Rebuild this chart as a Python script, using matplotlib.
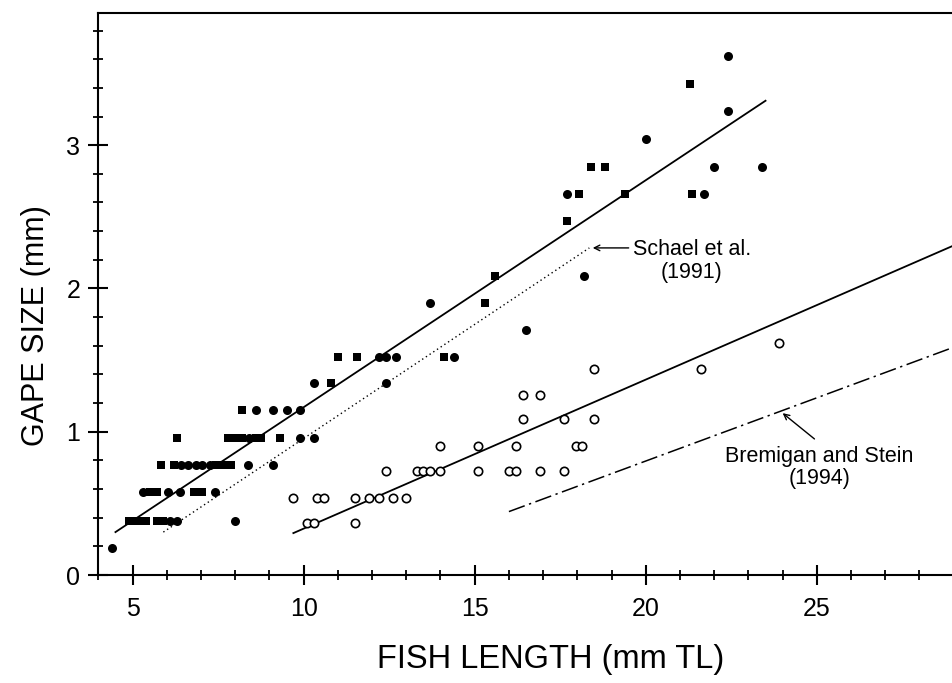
import numpy as np
import matplotlib.pyplot as plt
from matplotlib.ticker import MultipleLocator

plt.rcParams['font.family'] = ['Liberation Sans', 'DejaVu Sans']

# filled circles (length, gape)
circ_x = [4.4, 6.1, 6.3, 8.0, 5.3, 6.05, 6.4, 7.4, 6.43, 6.63, 6.84, 7.04, 7.25, 8.36, 9.1,
          8.4, 9.9, 10.3, 8.6, 9.1, 9.5, 9.9, 10.3, 12.4, 12.2, 12.4, 12.7, 14.4, 16.5, 13.7,
          18.2, 17.7, 21.7, 22.0, 23.4, 20.0, 22.4, 22.4]
circ_y = [0.19, 0.38, 0.38, 0.38, 0.58, 0.58, 0.58, 0.58, 0.77, 0.77, 0.77, 0.77, 0.77, 0.77, 0.77,
          0.96, 0.96, 0.96, 1.15, 1.15, 1.15, 1.15, 1.34, 1.34, 1.52, 1.52, 1.52, 1.52, 1.71, 1.90,
          2.09, 2.66, 2.66, 2.85, 2.85, 3.04, 3.24, 3.62]

# filled squares
sq_x = [4.89, 5.08, 5.27, 5.4, 5.7, 5.9, 5.5, 5.7, 6.81, 7.03, 5.83, 6.22, 7.45, 7.66, 7.87,
        6.3, 7.8, 8.0, 8.2, 8.6, 8.75, 9.3, 8.2, 10.8, 11.0, 11.55, 14.1, 15.3, 15.6, 17.7,
        18.05, 19.4, 21.35, 18.4, 18.8, 21.3]
sq_y = [0.38, 0.38, 0.38, 0.38, 0.38, 0.38, 0.58, 0.58, 0.58, 0.58, 0.77, 0.77, 0.77, 0.77, 0.77,
        0.96, 0.96, 0.96, 0.96, 0.96, 0.96, 0.96, 1.15, 1.34, 1.52, 1.52, 1.52, 1.90, 2.09, 2.47,
        2.66, 2.66, 2.66, 2.85, 2.85, 3.43]

# open circles
open_x = [10.1, 10.3, 11.5, 9.7, 10.4, 10.6, 11.5, 11.9, 12.2, 12.6, 13.0,
          12.4, 13.3, 13.5, 13.7, 14.0, 15.1, 16.0, 16.2, 16.9, 17.6,
          14.0, 15.1, 16.2, 17.95, 18.15, 16.4, 17.6, 18.5, 16.4, 16.9, 18.5, 21.6, 23.9]
open_y = [0.36, 0.36, 0.36, 0.54, 0.54, 0.54, 0.54, 0.54, 0.54, 0.54, 0.54,
          0.725, 0.725, 0.725, 0.725, 0.725, 0.725, 0.725, 0.725, 0.725, 0.725,
          0.90, 0.90, 0.90, 0.90, 0.90, 1.09, 1.09, 1.09, 1.26, 1.26, 1.44, 1.44, 1.62]

# regression lines: (x start, x end), (y start, y end)
fit_filled_x = [4.5, 23.5]
fit_filled_y = [0.30, 3.31]
fit_open_x = [9.7, 29.0]
fit_open_y = [0.293, 2.30]
schael_x = [5.9, 18.35]
schael_y = [0.30, 2.283]
bremigan_x = [16.0, 29.0]
bremigan_y = [0.443, 1.59]

fig = plt.figure(figsize=(9.52, 6.83), dpi=100)
ax = fig.add_axes([0.1033, 0.158, 0.8967, 0.8225])

ax.plot(fit_filled_x, fit_filled_y, color='black', lw=1.3)
ax.plot(fit_open_x, fit_open_y, color='black', lw=1.3)
ax.plot(schael_x, schael_y, color='black', lw=1.0, linestyle=(0, (1, 2.2)))
ax.plot(bremigan_x, bremigan_y, color='black', lw=1.1, linestyle=(0, (11, 3, 1.5, 3)))

ax.plot(circ_x, circ_y, 'o', color='black', ms=6.5, mew=0)
ax.plot(sq_x, sq_y, 's', color='black', ms=6, mew=0)
ax.plot(open_x, open_y, 'o', mfc='white', mec='black', ms=6, mew=1.2)

ax.annotate('', xy=(18.45, 2.283), xytext=(19.5, 2.283),
            arrowprops=dict(arrowstyle='->', color='black', lw=1.0, shrinkA=0, shrinkB=0))
ax.text(21.35, 2.19, 'Schael et al.\n(1991)', ha='center', va='center', fontsize=15.5,
        linespacing=1.1)
ax.annotate('', xy=(24.0, 1.13), xytext=(24.93, 0.95),
            arrowprops=dict(arrowstyle='->', color='black', lw=1.0, shrinkA=0, shrinkB=0))
ax.text(25.07, 0.75, 'Bremigan and Stein\n(1994)', ha='center', va='center', fontsize=15.5,
        linespacing=1.1)

ax.set_xlim(4, 28.95)
ax.set_ylim(0, 3.92)
ax.spines['right'].set_visible(False)
for s in ['left', 'bottom', 'top']:
    ax.spines[s].set_linewidth(1.5)

ax.xaxis.set_major_locator(MultipleLocator(5))
ax.xaxis.set_minor_locator(MultipleLocator(1))
ax.yaxis.set_major_locator(MultipleLocator(1))
ax.yaxis.set_minor_locator(MultipleLocator(0.2))
ax.tick_params(which='major', direction='inout', length=14, width=1.5, labelsize=18)
ax.tick_params(axis='x', which='major', pad=9)
ax.tick_params(axis='y', which='major', pad=6)
ax.tick_params(which='minor', direction='inout', length=7, width=1.3)
ax.tick_params(top=False, right=False, which='both')

ax.set_xlabel('FISH LENGTH (mm TL)', fontsize=23.5, va='center')
ax.xaxis.set_label_coords(0.530, -0.151)
ax.set_ylabel('GAPE SIZE (mm)', fontsize=22, va='center')
ax.yaxis.set_label_coords(-0.073, 0.445)

plt.savefig('out.png', dpi=100)
